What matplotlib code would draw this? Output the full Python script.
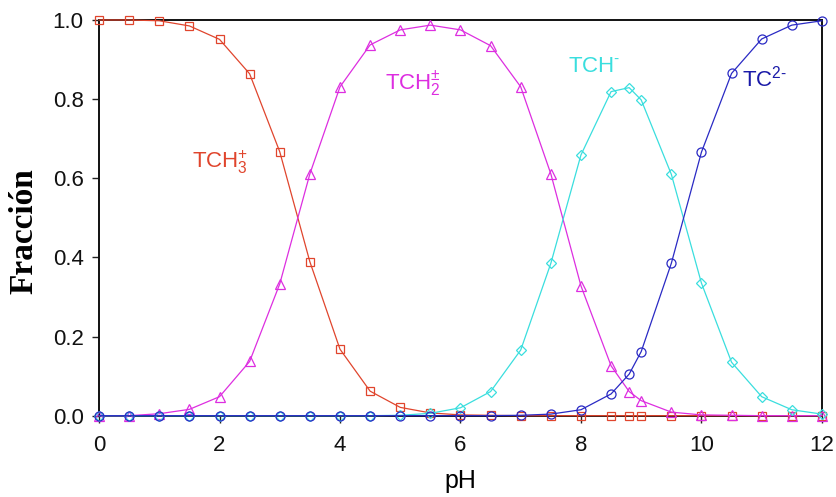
import matplotlib
matplotlib.use("Agg")
import matplotlib.pyplot as plt

# Speciation of tetracycline vs. pH
ph = [0, 0.5, 1, 1.5, 2, 2.5, 3, 3.5, 4, 4.5, 5, 5.5, 6, 6.5, 7, 7.5, 8,
      8.5, 8.8, 9, 9.5, 10, 10.5, 11, 11.5, 12]

tch3 = [1.0, 1.0, 0.998, 0.985, 0.951, 0.864, 0.667, 0.389, 0.168, 0.062,
        0.021, 0.007, 0.002, 0.001, 0, 0, 0, 0, 0, 0, 0, 0, 0, 0, 0, 0]
tch2 = [0.0, 0.0, 0.005, 0.016, 0.048, 0.137, 0.333, 0.611, 0.831, 0.937,
        0.975, 0.987, 0.975, 0.935, 0.831, 0.611, 0.328, 0.126, 0.061, 0.038,
        0.009, 0.002, 0.001, 0, 0, 0]
tch = [0, 0, 0, 0, 0, 0, 0, 0, 0, 0, 0.001, 0.006, 0.020, 0.061, 0.166,
       0.385, 0.659, 0.819, 0.829, 0.798, 0.610, 0.335, 0.135, 0.048, 0.015,
       0.004]
tc = [0, 0, 0, 0, 0, 0, 0, 0, 0, 0, 0, 0, 0, 0, 0.001, 0.004, 0.015, 0.055,
      0.105, 0.162, 0.385, 0.666, 0.865, 0.952, 0.987, 0.998]

x_ticks = [0, 2, 4, 6, 8, 10, 12]
y_ticks = [0.0, 0.2, 0.4, 0.6, 0.8, 1.0]

plt.rcParams["font.family"] = ["Liberation Sans", "DejaVu Sans"]
plt.rcParams["mathtext.fontset"] = "custom"
plt.rcParams["mathtext.rm"] = "Liberation Sans"
plt.rcParams["mathtext.it"] = "Liberation Sans"

fig = plt.figure(figsize=(8.37, 4.97), dpi=100)
ax = fig.add_axes([0.1183, 0.1636, 0.8637, 0.7962])

red = "#e0452d"
mag = "#dd2ee0"
cyan = "#3adede"
blue = "#2a2ac4"

common = dict(lw=0.9, mfc="none", mew=0.9, clip_on=False)
ax.plot(ph, tch3, color=red, marker="s", ms=6.3, zorder=3, **common)
ax.plot(ph, tch2, color=mag, marker="^", ms=7.0, zorder=4, **common)
ax.plot(ph, tch, color=cyan, marker="D", ms=5.3, zorder=5, **common)
ax.plot(ph, tc, color=blue, marker="o", ms=6.5, zorder=6, **common)

lab = dict(fontsize=16, ha="left", va="baseline")
ax.text(1.54, 0.625, r"TCH$_3^{+}$", color=red, **lab)
ax.text(4.75, 0.823, r"TCH$_2^{\pm}$", color=mag, **lab)
ax.text(7.79, 0.869, r"TCH$^{\text{-}}$", color=cyan, **lab)
ax.text(10.67, 0.831, r"TC$^{\text{2-}}$", color="#1a1aa8", **lab)

ax.set_xlim(0, 12)
ax.set_ylim(0, 1)
ax.set_xticks(x_ticks)
ax.set_yticks(y_ticks)
ax.set_yticklabels([f"{v:.1f}" for v in y_ticks])
ax.tick_params(axis="both", labelsize=16, direction="out", length=5, width=1,
               colors="#222222", labelcolor="#111111")
ax.tick_params(axis="x", pad=9)
ax.tick_params(axis="y", pad=6)
for s in ax.spines.values():
    s.set_linewidth(1.4)
    s.set_color("#111111")

ax.set_xlabel("pH", fontsize=18, va="center")
ax.xaxis.set_label_coords(0.5, -0.165)
ax.set_ylabel("Fracción", fontsize=24, fontweight="bold", va="center",
              family=["Liberation Serif", "DejaVu Serif"])
ax.yaxis.set_label_coords(-0.1035, 0.466)

fig.savefig("out.png", dpi=100)
